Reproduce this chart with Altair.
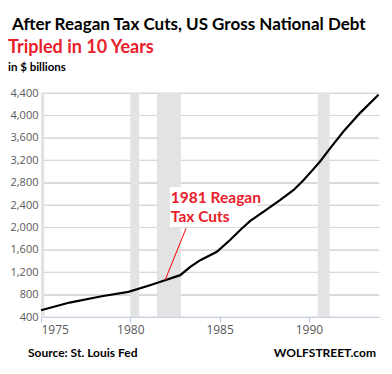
import altair as alt
import pandas as pd

# Gross national debt, $ billions
dates = ["1975-01-01", "1976-08-08", "1978-05-27", "1979-11-25", "1981-02-06",
         "1981-12-13", "1982-10-19", "1983-05-12", "1983-12-02", "1984-11-06",
         "1985-08-08", "1986-03-15", "1986-09-20", "1987-06-21", "1988-05-27",
         "1989-02-24", "1989-09-16", "1990-04-08", "1990-08-25", "1991-03-18",
         "1991-12-17", "1992-11-20", "1993-11-25"]
debt = [520, 658, 771, 848, 967, 1057, 1147, 1296, 1415, 1564, 1779, 1968,
        2115, 2281, 2490, 2669, 2848, 3045, 3185, 3420, 3720, 4050, 4370]

# Recessions
rec_start = ["1975-01-01", "1980-01-01", "1981-07-01", "1990-07-01"]
rec_end = ["1975-03-10", "1980-07-01", "1982-11-01", "1991-03-01"]

y_ticks = list(range(400, 4401, 400))
x_ticks = ["1975-01-01", "1980-01-01", "1985-01-01", "1990-01-01"]

# annotation
ann_text = ["1981 Reagan", "Tax Cuts"]
ann_x = "1982-04-10"
ann_y = 2442
box_x = ["1982-03-20"]; box_x2 = ["1987-02-10"]
box_y = [2723]; box_y2 = [2007]
conn_x = ["1981-12-13"]; conn_x2 = ["1983-02-15"]
conn_y = [1057]; conn_y2 = [1983]

df = pd.DataFrame({"date": dates, "debt": debt})
rec = pd.DataFrame({"start": rec_start, "end": rec_end})

xscale = alt.Scale(domain=["1975-01-01", "1993-12-05"])
yscale = alt.Scale(domain=[400, 4400], nice=False, zero=False)

FONT_AX = "Open Sans"
FONT_B = "Lato"

xaxis = alt.Axis(values=x_ticks, format="%Y", title=None, grid=False,
                 domainColor="#b4c7e7", tickColor="#b4c7e7", tickSize=5,
                 labelColor="#595959", labelFont=FONT_AX, labelFontSize=12,
                 labelPadding=2)
yaxis = alt.Axis(values=y_ticks, format=",.0f", title=None, grid=True,
                 gridColor="#d9d9d9", domain=False, ticks=False,
                 labelColor="#595959", labelFont=FONT_AX, labelFontSize=11,
                 labelPadding=3)

grid = alt.Chart(pd.DataFrame({"v": y_ticks})).mark_rule(color="#d9d9d9").encode(
    y=alt.Y("v:Q", scale=yscale, axis=yaxis)
)

bars = alt.Chart(rec).mark_rect(color="#e3e3e3").encode(
    x=alt.X("start:T", scale=xscale, axis=xaxis),
    x2="end:T",
    y=alt.value(0),
    y2=alt.value(224),
)

box = alt.Chart(pd.DataFrame({"x": box_x, "x2": box_x2, "y": box_y, "y2": box_y2})).mark_rect(
    color="white").encode(
    x=alt.X("x:T", scale=xscale, axis=xaxis), x2="x2:T",
    y=alt.Y("y:Q", scale=yscale, axis=yaxis), y2="y2:Q")

line = alt.Chart(df).mark_line(color="black", strokeWidth=2.2).encode(
    x=alt.X("date:T", scale=xscale, axis=xaxis),
    y=alt.Y("debt:Q", scale=yscale, axis=yaxis),
)

conn = alt.Chart(pd.DataFrame({"x": conn_x, "x2": conn_x2, "y": conn_y, "y2": conn_y2})).mark_rule(
    color="#ff0000", strokeWidth=1).encode(
    x=alt.X("x:T", scale=xscale, axis=xaxis), x2="x2:T",
    y=alt.Y("y:Q", scale=yscale, axis=yaxis), y2="y2:Q")

ann = alt.Chart(pd.DataFrame({"x": [ann_x], "y": [ann_y]})).mark_text(
    text=ann_text, align="left", baseline="alphabetic", font=FONT_B,
    fontWeight="bold", fontSize=15.5, color="#e8202a", lineHeight=19.6).encode(
    x=alt.X("x:T", scale=xscale, axis=xaxis), y=alt.Y("y:Q", scale=yscale, axis=yaxis))

def label(txt, x, y, size, color="black", align="left"):
    return alt.Chart(pd.DataFrame({"t": [txt]})).mark_text(
        align=align, baseline="alphabetic", font=FONT_B, fontWeight="bold",
        fontSize=size, color=color).encode(
        text="t:N", x=alt.value(x), y=alt.value(y))

t1 = label("After Reagan Tax Cuts, US Gross National Debt", -29, -63, 17)
t2 = label("Tripled in 10 Years", -33, -40, 18, color="#e8202a")
t3 = label("in $ billions", -33, -22, 11.5)
f1 = label("Source: St. Louis Fed", -13, 263.7, 12)
f2 = label("WOLFSTREET.com", 335, 263.7, 12, align="right")

chart = alt.layer(grid, bars, box, line, conn, ann, t1, t2, t3, f1, f2).properties(
    width=338, height=224,
    autosize=alt.AutoSizeParams(type="none"),
    padding={"left": 33, "top": 85, "right": 5, "bottom": 49},
).configure_view(stroke=None).resolve_scale(x="shared", y="shared")

chart.save("out.html", embed_options={"renderer": "svg", "actions": False})
